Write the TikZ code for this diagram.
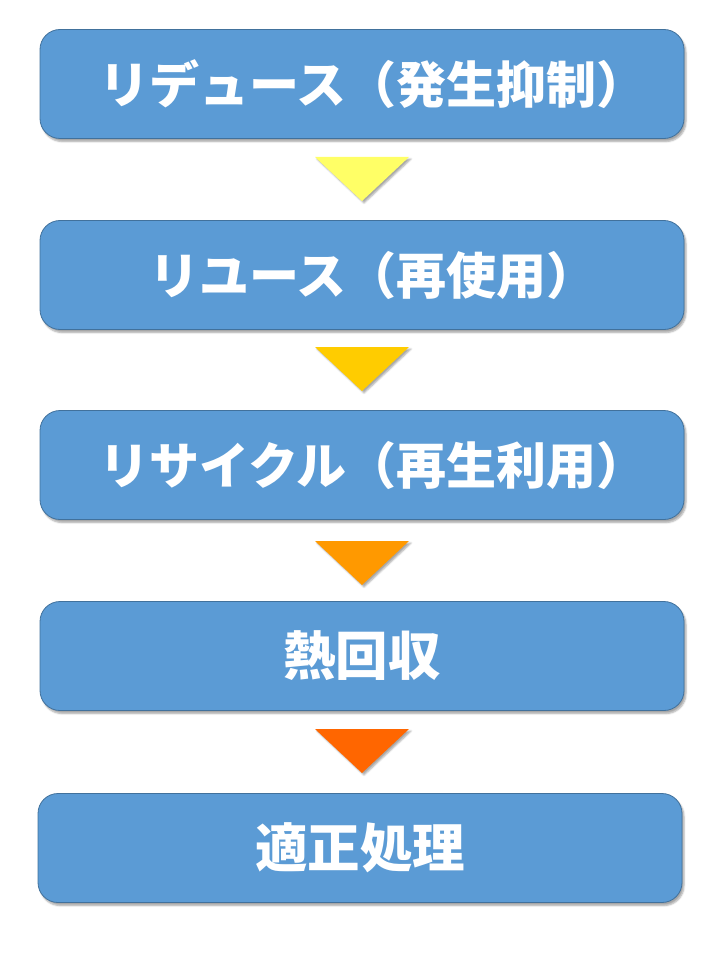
\documentclass[tikz,border=0pt]{standalone}
\usepackage{fontspec}
\newfontfamily\cjk{Noto Sans CJK JP}
\usetikzlibrary{shadows,shadows.blur}
\definecolor{boxfill}{HTML}{5B9BD5}
\definecolor{boxline}{HTML}{41719C}
\definecolor{t1}{HTML}{FFFF66}
\definecolor{t2}{HTML}{FFCC00}
\definecolor{t3}{HTML}{FF9900}
\definecolor{t4}{HTML}{FF6600}
\tikzset{
  stepbox/.style={draw=boxline, line width=0.8pt, fill=boxfill, rounded corners=20pt,
    minimum width=644pt, minimum height=109pt, inner sep=0pt,
    text=white, font=\cjk\bfseries\fontsize{50}{56}\selectfont,
    blur shadow={shadow xshift=2pt, shadow yshift=-3pt, shadow blur steps=5, shadow opacity=35}},
  bigtext/.style={font=\cjk\bfseries\fontsize{52.5}{58}\selectfont},
  arrowtri/.style={draw=none, blur shadow={shadow xshift=2pt, shadow yshift=-2pt, shadow blur steps=4, shadow opacity=35}}
}
\begin{document}
\begin{tikzpicture}[x=1pt,y=-1pt]
\useasboundingbox (0,0) rectangle (720,960);
\node[stepbox] (b1) at (362,84) {\hspace*{22pt}リデュース（発生抑制）};
\node[stepbox] (b2) at (362,275) {\hspace*{22pt}リユース（再使用）};
\node[stepbox] (b3) at (362,465) {\hspace*{22pt}リサイクル（再生利用）};
\node[stepbox, bigtext] (b4) at (362,656) {熱回収};
\node[stepbox, bigtext] (b5) at (360,848) {適正処理};
\coordinate (a1) at (362,157);
\coordinate (a2) at (362,347);
\coordinate (a3) at (362,541);
\coordinate (a4) at (362,729);
\foreach \a/\c in {a1/t1,a2/t2,a3/t3,a4/t4}{
  \fill[\c, arrowtri] ([xshift=-47pt]\a) -- ([xshift=47pt]\a) -- ([yshift=-44pt]\a) -- cycle;
}
\end{tikzpicture}
\end{document}
